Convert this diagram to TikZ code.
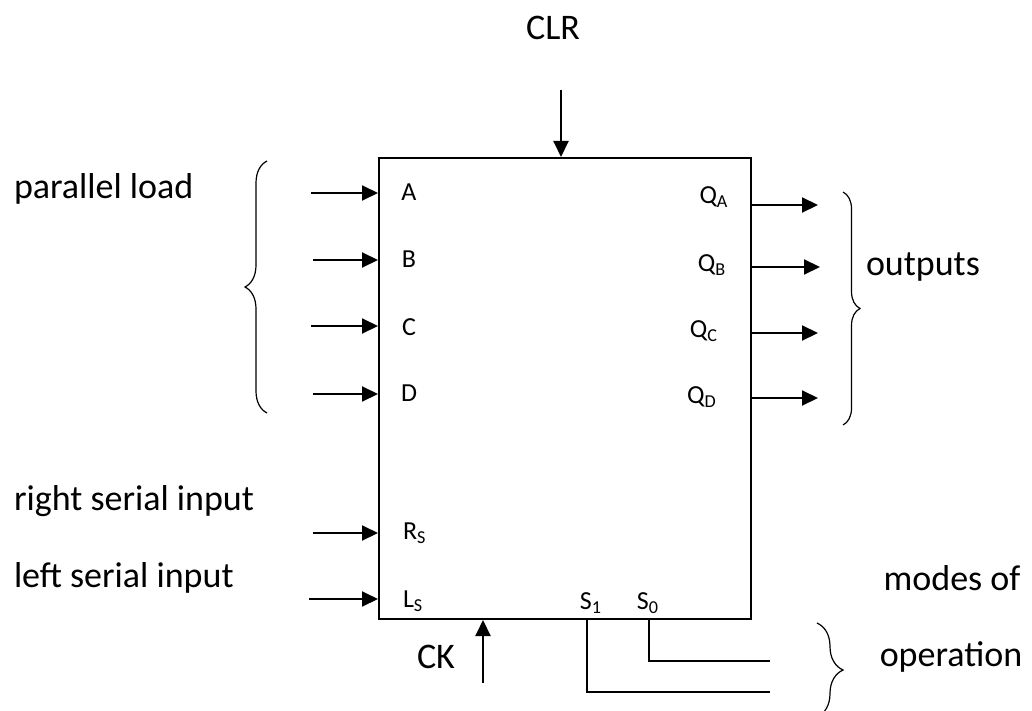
\documentclass[tikz,border=0pt]{standalone}
\usepackage{fontspec}
\setmainfont{Carlito}
\usetikzlibrary{arrows.meta,decorations.pathreplacing}

\begin{document}
\begin{tikzpicture}[x=0.5pt, y=-0.5pt, line width=1pt,
		every node/.style={inner sep=0pt, font=\fontsize{18}{22}\selectfont},
		pin/.style={font=\fontsize{13}{16}\selectfont},
		wire/.style={-{Triangle[length=8pt, width=7.5pt]}},
		curly/.style={decorate, line width=0.6pt, decoration={brace, amplitude=#1}}]
		\useasboundingbox (0,0) rectangle (1032,711);
		\node[draw, minimum width=186pt, minimum height=230.5pt] (reg) at (565,388.5) {};
		% labels inside the register
		\node[pin] (A) at (409,192) {A};
		\node[pin] (B) at (409,259) {B};
		\node[pin] (C) at (409,327) {C};
		\node[pin] (D) at (409,393) {D};
		\node[pin, anchor=west] (RS) at (402,533) {R\textsubscript{S}};
		\node[pin, anchor=west] (LS) at (402,601) {L\textsubscript{S}};
		\node[pin] (QA) at (714,197) {Q\textsubscript{A}};
		\node[pin] (QB) at (712,265) {Q\textsubscript{B}};
		\node[pin] (QC) at (704,331) {Q\textsubscript{C}};
		\node[pin] (QD) at (702,397) {Q\textsubscript{D}};
		\node[pin] (S1) at (591,603) {S\textsubscript{1}};
		\node[pin] (S0) at (648,603) {S\textsubscript{0}};
		% outside texts
		\node (clr) at (553,28) {CLR};
		\node (ck) at (436,657) {CK};
		\node[anchor=west] (par) at (13,189) {parallel load};
		\node[anchor=west] (out) at (865,267) {outputs};
		\node[anchor=west] (rsi) at (13,501) {right serial input};
		\node[anchor=west] (lsi) at (13,578) {left serial input};
		\node (modes) at (952,578) {modes of};
		\node (oper) at (951,657) {operation};
		% inputs
		\coordinate (inA) at (311,193);
		\coordinate (inB) at (313,260);
		\coordinate (inC) at (311,326);
		\coordinate (inD) at (313,394);
		\coordinate (inR) at (313,533);
		\coordinate (inL) at (309,599);
		\draw[wire] (inA) -- (inA -| reg.west);
		\draw[wire] (inB) -- (inB -| reg.west);
		\draw[wire] (inC) -- (inC -| reg.west);
		\draw[wire] (inD) -- (inD -| reg.west);
		\draw[wire] (inR) -- (inR -| reg.west);
		\draw[wire] (inL) -- (inL -| reg.west);
		% outputs
		\coordinate (outA) at (818,205);
		\coordinate (outB) at (820,267);
		\coordinate (outC) at (818,333);
		\coordinate (outD) at (818,398);
		\draw[wire] (outA -| reg.east) -- (outA);
		\draw[wire] (outB -| reg.east) -- (outB);
		\draw[wire] (outC -| reg.east) -- (outC);
		\draw[wire] (outD -| reg.east) -- (outD);
		% clear and clock
		\coordinate (clrin) at (561,90);
		\coordinate (ckin) at (483,683);
		\draw[wire] (clrin) -- (clrin |- reg.north);
		\draw[wire] (ckin) -- (ckin |- reg.south);
		% mode select lines
		\coordinate (s1pin) at (587,619);
		\coordinate (s0pin) at (649,619);
		\coordinate (m1) at (770,692);
		\coordinate (m0) at (770,661);
		\draw (s1pin) |- (m1);
		\draw (s0pin) |- (m0);
		% braces
		\draw[curly=11pt] (267,413) -- (267,161);
		\draw[curly=8.5pt] (843,192) -- (843,425);
		\draw[curly=13pt] (817,623) -- (817,717);
	\end{tikzpicture}
\end{document}
